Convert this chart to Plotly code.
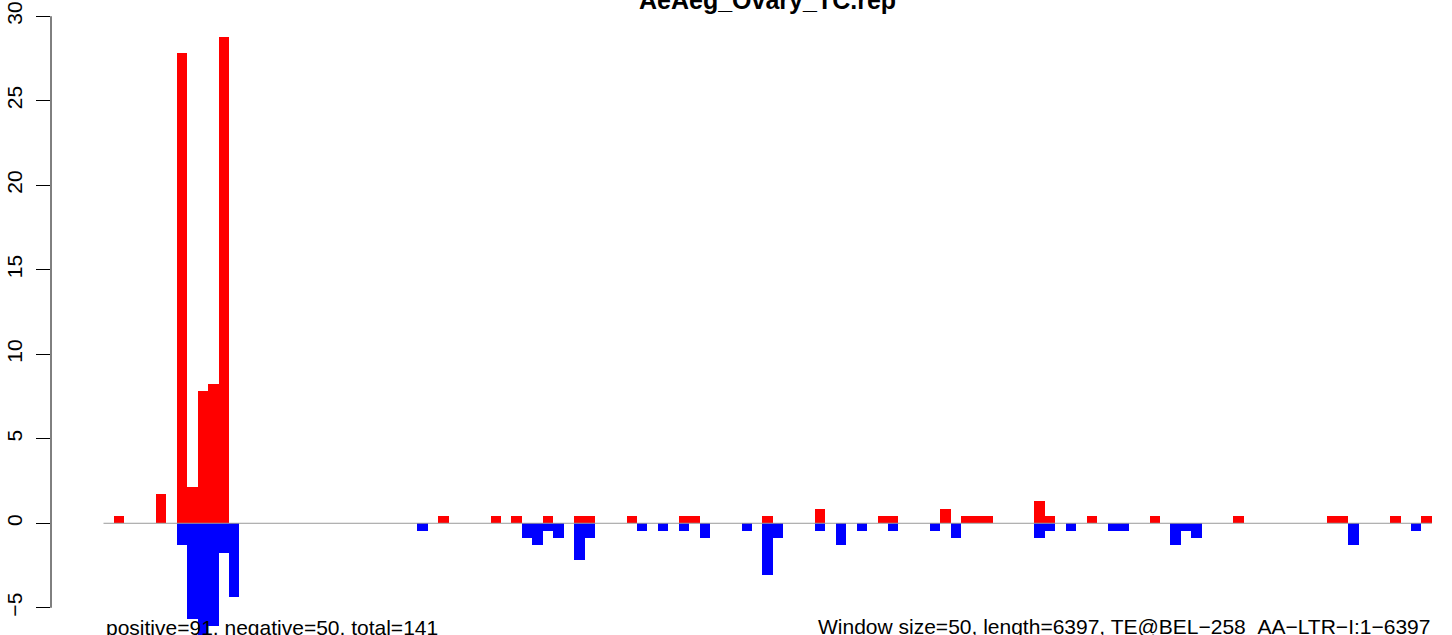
import plotly.graph_objects as go

# ---- data ----
n_windows = 127
pos_idx = [1, 5, 7, 8, 9, 10, 11, 32, 37, 39, 42, 45, 46, 50, 55, 56, 63, 68, 74, 75,
           80, 82, 83, 84, 89, 90, 94, 100, 108, 117, 118, 123, 126]
pos_val = [0.43, 1.74, 27.85, 2.17, 7.83, 8.26, 28.75, 0.43, 0.43, 0.43, 0.43, 0.43, 0.43, 0.43, 0.43, 0.43, 0.43, 0.87, 0.43, 0.43,
           0.87, 0.43, 0.43, 0.43, 1.30, 0.43, 0.43, 0.43, 0.43, 0.43, 0.43, 0.43, 0.43]
neg_idx = [7, 8, 9, 10, 11, 12, 30, 40, 41, 42, 43, 45, 46, 51, 53, 55, 57, 61, 63, 64,
           68, 70, 72, 75, 79, 81, 89, 90, 92, 96, 97, 102, 103, 104, 119, 125]
neg_val = [-1.30, -5.65, -6.96, -6.09, -1.74, -4.35, -0.43, -0.87, -1.30, -0.43, -0.87, -2.17, -0.87, -0.43, -0.43, -0.43, -0.87, -0.43, -3.04, -0.87,
           -0.43, -1.30, -0.43, -0.43, -0.43, -0.87, -0.87, -0.43, -0.43, -0.43, -0.43, -1.30, -0.43, -0.87, -1.30, -0.43]
y_ticks = [-5, 0, 5, 10, 15, 20, 25, 30]
y_tick_labels = ["\u22125", "0", "5", "10", "15", "20", "25", "30"]

title_text = "AeAeg_Ovary_TC.rep"
left_note = "positive=91, negative=50, total=141"
right_note = "Window size=50, length=6397, TE@BEL\u2212258_AA\u2212LTR\u2212I:1\u22126397"

FONT = "Liberation Sans, Arial, Helvetica, sans-serif"

fig = go.Figure()
fig.add_trace(go.Bar(x=pos_idx, y=pos_val, width=1, marker=dict(color="#FF0000", line=dict(width=0)),
                     showlegend=False))
fig.add_trace(go.Bar(x=neg_idx, y=neg_val, width=1, marker=dict(color="#0000FF", line=dict(width=0)),
                     showlegend=False))

# zero reference line across the windows
fig.add_shape(type="line", xref="x", yref="y", x0=-0.5, x1=n_windows - 0.5, y0=0, y1=0,
              line=dict(color="#9A9A9A", width=1), layer="above")
# y axis line spanning the tick range (R style)
fig.add_shape(type="line", xref="paper", yref="y", x0=0, x1=0, y0=y_ticks[0], y1=y_ticks[-1],
              line=dict(color="black", width=1), layer="above")

fig.add_annotation(text=f"<b>{title_text}</b>", x=(n_windows - 1) / 2, xref="x", y=1, yref="paper",
                   xanchor="center", yanchor="bottom", yshift=-16, showarrow=False,
                   font=dict(family=FONT, size=25, color="black"))
fig.add_annotation(text=left_note, x=-0.5, xref="x", y=0, yref="paper", xanchor="left", yanchor="bottom",
                   yshift=-6, showarrow=False, font=dict(family=FONT, size=21, color="black"))
fig.add_annotation(text=right_note, x=n_windows - 0.5, xref="x", y=0, yref="paper", xanchor="right",
                   yanchor="bottom", yshift=-6, showarrow=False, font=dict(family=FONT, size=21, color="black"))

fig.update_layout(
    width=1452, height=635,
    margin=dict(l=51, r=0, t=0, b=0, autoexpand=False),
    paper_bgcolor="white", plot_bgcolor="white",
    barmode="overlay", bargap=0,
    xaxis=dict(range=[-5.519, 128.42], visible=False, fixedrange=True),
    yaxis=dict(range=[-6.61, 30.96], tickmode="array", tickvals=y_ticks, ticktext=y_tick_labels,
               ticks="outside", ticklen=14, tickwidth=1, tickcolor="black",
               tickangle=-90, ticklabelstandoff=6,
               showline=False, zeroline=False, showgrid=False,
               tickfont=dict(family=FONT, size=21, color="black")),
)

fig.write_html("out.html", config={"displayModeBar": False},
               post_script="document.body.style.margin='0';document.body.style.overflow='hidden';")
